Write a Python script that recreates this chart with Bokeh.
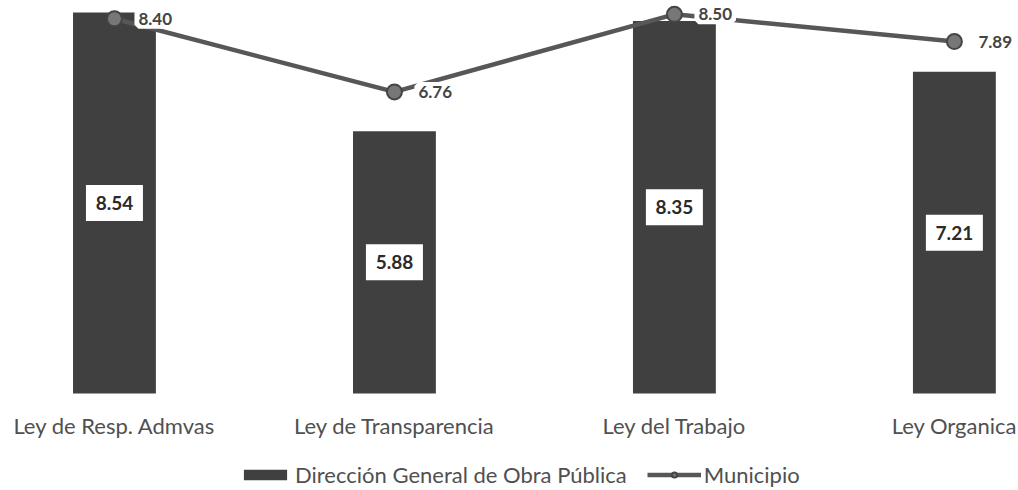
from bokeh.plotting import figure
from bokeh.models import ColumnDataSource, Range1d, Legend, LegendItem, LabelSet
from bokeh.core.properties import value
from bokeh.embed import file_html
from bokeh.resources import INLINE

categories = ["Ley de Resp. Admvas", "Ley de Transparencia", "Ley del Trabajo", "Ley Organica"]
direccion = [8.54, 5.88, 8.35, 7.21]
municipio = [8.40, 6.76, 8.50, 7.89]

xs = list(range(len(categories)))
src = ColumnDataSource(dict(
    x=xs,
    cat=categories,
    zero=[0] * len(xs),
    bar=direccion,
    mid=[v / 2 for v in direccion],
    bar_lbl=[f"{v:.2f}" for v in direccion],
    mun=municipio,
    mun_lbl=[f"{v:.2f}" for v in municipio],
))

FONT = "Lato"

p = figure(width=1018, height=490, output_backend="svg", toolbar_location=None,
           x_range=Range1d(-0.407, 3.229), y_range=Range1d(-2.175, 8.81),
           min_border_left=0, min_border_right=0, min_border_top=0, min_border_bottom=0)
p.outline_line_color = None
p.background_fill_color = "white"
p.border_fill_color = "white"
p.xgrid.grid_line_color = None
p.ygrid.grid_line_color = None
p.xaxis.visible = False
p.yaxis.visible = False

bars = p.vbar(x="x", bottom="zero", top="bar", width=0.296, source=src,
              fill_color="#404040", line_color=None)

# value boxes in bars
p.rect(x="x", y="mid", width=57, height=36, width_units="screen", height_units="screen",
       source=src, fill_color="white", line_color=None)
p.text(x="x", y="mid", text="bar_lbl", source=src, text_align="center", text_baseline="middle",
       text_font=value(FONT), text_font_size="19px", text_font_style="bold", text_color="#2a2a2a")

ln = p.line(x="x", y="mun", source=src, line_color="#575757", line_width=4.5)
sc = p.scatter(x="x", y="mun", source=src, size=15, fill_color="#777777",
               line_color="#454545", line_width=2)
lbls = LabelSet(x="x", y="mun", text="mun_lbl", source=src, x_offset=24, y_offset=0,
                text_align="left", text_baseline="middle",
                text_font=value(FONT), text_font_size="17px", text_font_style="bold",
                text_color="#444444", background_fill_color="white",
                border_line_color="white", border_line_width=8)
p.add_layout(lbls)

cats = LabelSet(x="x", y="zero", text="cat", source=src, y_offset=-32,
                text_align="center", text_baseline="middle",
                text_font=value(FONT), text_font_size="22px", text_color="#505050")
p.add_layout(cats)

legend = Legend(items=[
    LegendItem(label="Dirección General de Obra Pública", renderers=[bars]),
    LegendItem(label="Municipio", renderers=[ln, sc]),
], orientation="horizontal", location=(238, 2), border_line_color=None,
    background_fill_alpha=0,
    label_text_font=FONT, label_text_font_size="22px", label_text_color="#505050",
    glyph_width=54, glyph_height=13, spacing=20, padding=3, margin=0, label_standoff=3)
p.add_layout(legend)

open("out.html", "w").write(file_html(p, INLINE))
